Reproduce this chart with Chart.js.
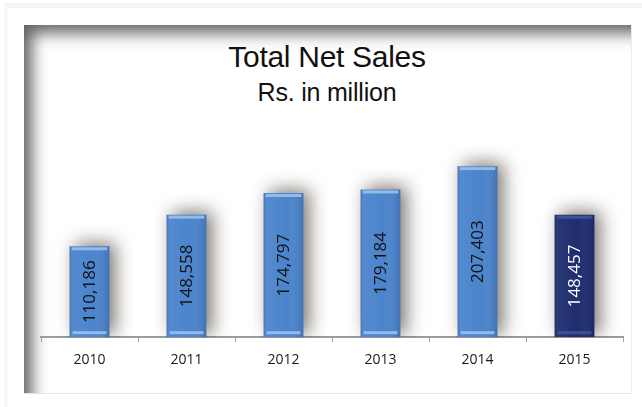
<!DOCTYPE html>
<html>
<head>
<meta charset="utf-8">
<title>Total Net Sales</title>
<script src="https://cdn.jsdelivr.net/npm/chart.js@4/dist/chart.umd.min.js"></script>
<style>
    html, body {
        margin: 0;
        padding: 0;
        background: #ffffff;
    }
    #wrap {
        position: relative;
        width: 642px;
        height: 407px;
        overflow: hidden;
    }
    #frame {
        position: absolute;
        left: 4px;
        top: 3px;
        width: 650px;
        height: 420px;
        border-top: 5px solid #f5f5f5;
        border-left: 4px solid #f8f8f8;
    }
    #panel {
        position: absolute;
        left: 24px;
        top: 25px;
        width: 607px;
        height: 368px;
        background: #ffffff;
        border-right: 1px solid #ececec;
        border-bottom: 1px solid #e6e6e6;
        box-shadow: inset 14px 14px 16px -6px rgba(0, 0, 0, 0.62);
    }
    .heading {
        position: absolute;
        left: 0;
        width: 654px;
        text-align: center;
        font-family: "Liberation Sans", Arial, sans-serif;
        color: #111111;
        white-space: nowrap;
    }
    #titulo {
        top: 40px;
        font-size: 30px;
        letter-spacing: -0.3px;
    }
    #subtitulo {
        top: 78px;
        font-size: 25px;
        letter-spacing: -0.2px;
    }
    #graficoVendas {
        position: absolute;
        left: 0;
        top: 0;
    }
</style>
</head>
<body>
<div id="wrap">
    <div id="frame"></div>
    <div id="panel"></div>
    <div class="heading" id="titulo">Total Net Sales</div>
    <div class="heading" id="subtitulo">Rs. in million</div>
    <canvas id="graficoVendas" width="642" height="407"></canvas>
</div>
<script>
const anos = ['2010', '2011', '2012', '2013', '2014', '2015'];
const vendas = [110186, 148558, 174797, 179184, 207403, 148457];
const coresBarra = ['#4b84cc', '#4b84cc', '#4b84cc', '#4b84cc', '#4b84cc', '#1f2d6e'];
const coresBrilho = ['#93bbea', '#93bbea', '#93bbea', '#93bbea', '#93bbea', '#3d5199'];
const coresTexto = ['#111111', '#111111', '#111111', '#111111', '#111111', '#ffffff'];

// soft shadow behind the bars
const sombraBarras = {
    id: 'sombraBarras',
    beforeDatasetsDraw(chart) {
        const ctx = chart.ctx;
        ctx.save();
        ctx.shadowColor = 'rgba(40, 30, 20, 0.6)';
        ctx.shadowBlur = 18;
        ctx.shadowOffsetX = 6;
        ctx.shadowOffsetY = -3;
    },
    afterDatasetsDraw(chart) {
        chart.ctx.restore();
    }
};

// bevel strips, side shading and the rotated value inside each bar
const detalheBarras = {
    id: 'detalheBarras',
    afterDatasetsDraw(chart) {
        const ctx = chart.ctx;
        const meta = chart.getDatasetMeta(0);

        meta.data.forEach(function (bar, i) {
            const largura = bar.width;
            const esquerda = bar.x - largura / 2;
            const topo = bar.y;
            const base = bar.base;

            ctx.save();

            const sombreado = ctx.createLinearGradient(esquerda, 0, esquerda + largura, 0);
            sombreado.addColorStop(0, 'rgba(0, 0, 40, 0.18)');
            sombreado.addColorStop(0.08, 'rgba(255, 255, 255, 0.05)');
            sombreado.addColorStop(0.6, 'rgba(255, 255, 255, 0)');
            sombreado.addColorStop(1, 'rgba(0, 0, 40, 0.15)');
            ctx.fillStyle = sombreado;
            ctx.fillRect(esquerda, topo, largura, base - topo);

            ctx.fillStyle = coresBrilho[i];
            ctx.fillRect(esquerda + 2, topo + 1, largura - 4, 3);
            ctx.fillRect(esquerda + 3, base - 6, largura - 6, 3);

            ctx.translate(bar.x, (topo + base) / 2);
            ctx.rotate(-Math.PI / 2);
            ctx.font = '17px "Open Sans", sans-serif';
            ctx.fillStyle = coresTexto[i];
            ctx.textAlign = 'center';
            ctx.textBaseline = 'middle';
            ctx.fillText(vendas[i].toLocaleString('en-US'), 0, 1);

            ctx.restore();
        });
    }
};

new Chart(document.getElementById('graficoVendas'), {
    type: 'bar',
    data: {
        labels: anos,
        datasets: [{
            label: 'Net Sales',
            data: vendas,
            backgroundColor: coresBarra,
            borderWidth: 0,
            categoryPercentage: 1,
            barPercentage: 0.41
        }]
    },
    options: {
        responsive: false,
        animation: false,
        layout: {
            padding: { left: 41, right: 19, top: 131, bottom: 30 }
        },
        plugins: {
            legend: { display: false },
            tooltip: { enabled: false }
        },
        scales: {
            x: {
                grid: {
                    offset: true,
                    drawOnChartArea: false,
                    drawTicks: true,
                    tickLength: 5,
                    color: '#a3a3a3'
                },
                border: { color: '#9c9c9c', width: 2 },
                ticks: {
                    color: '#1a1a1a',
                    padding: 9,
                    font: { family: '"Open Sans", sans-serif', size: 14 }
                }
            },
            y: {
                display: false,
                min: 0,
                max: 250000
            }
        }
    },
    plugins: [sombraBarras, detalheBarras]
});
</script>
</body>
</html>
